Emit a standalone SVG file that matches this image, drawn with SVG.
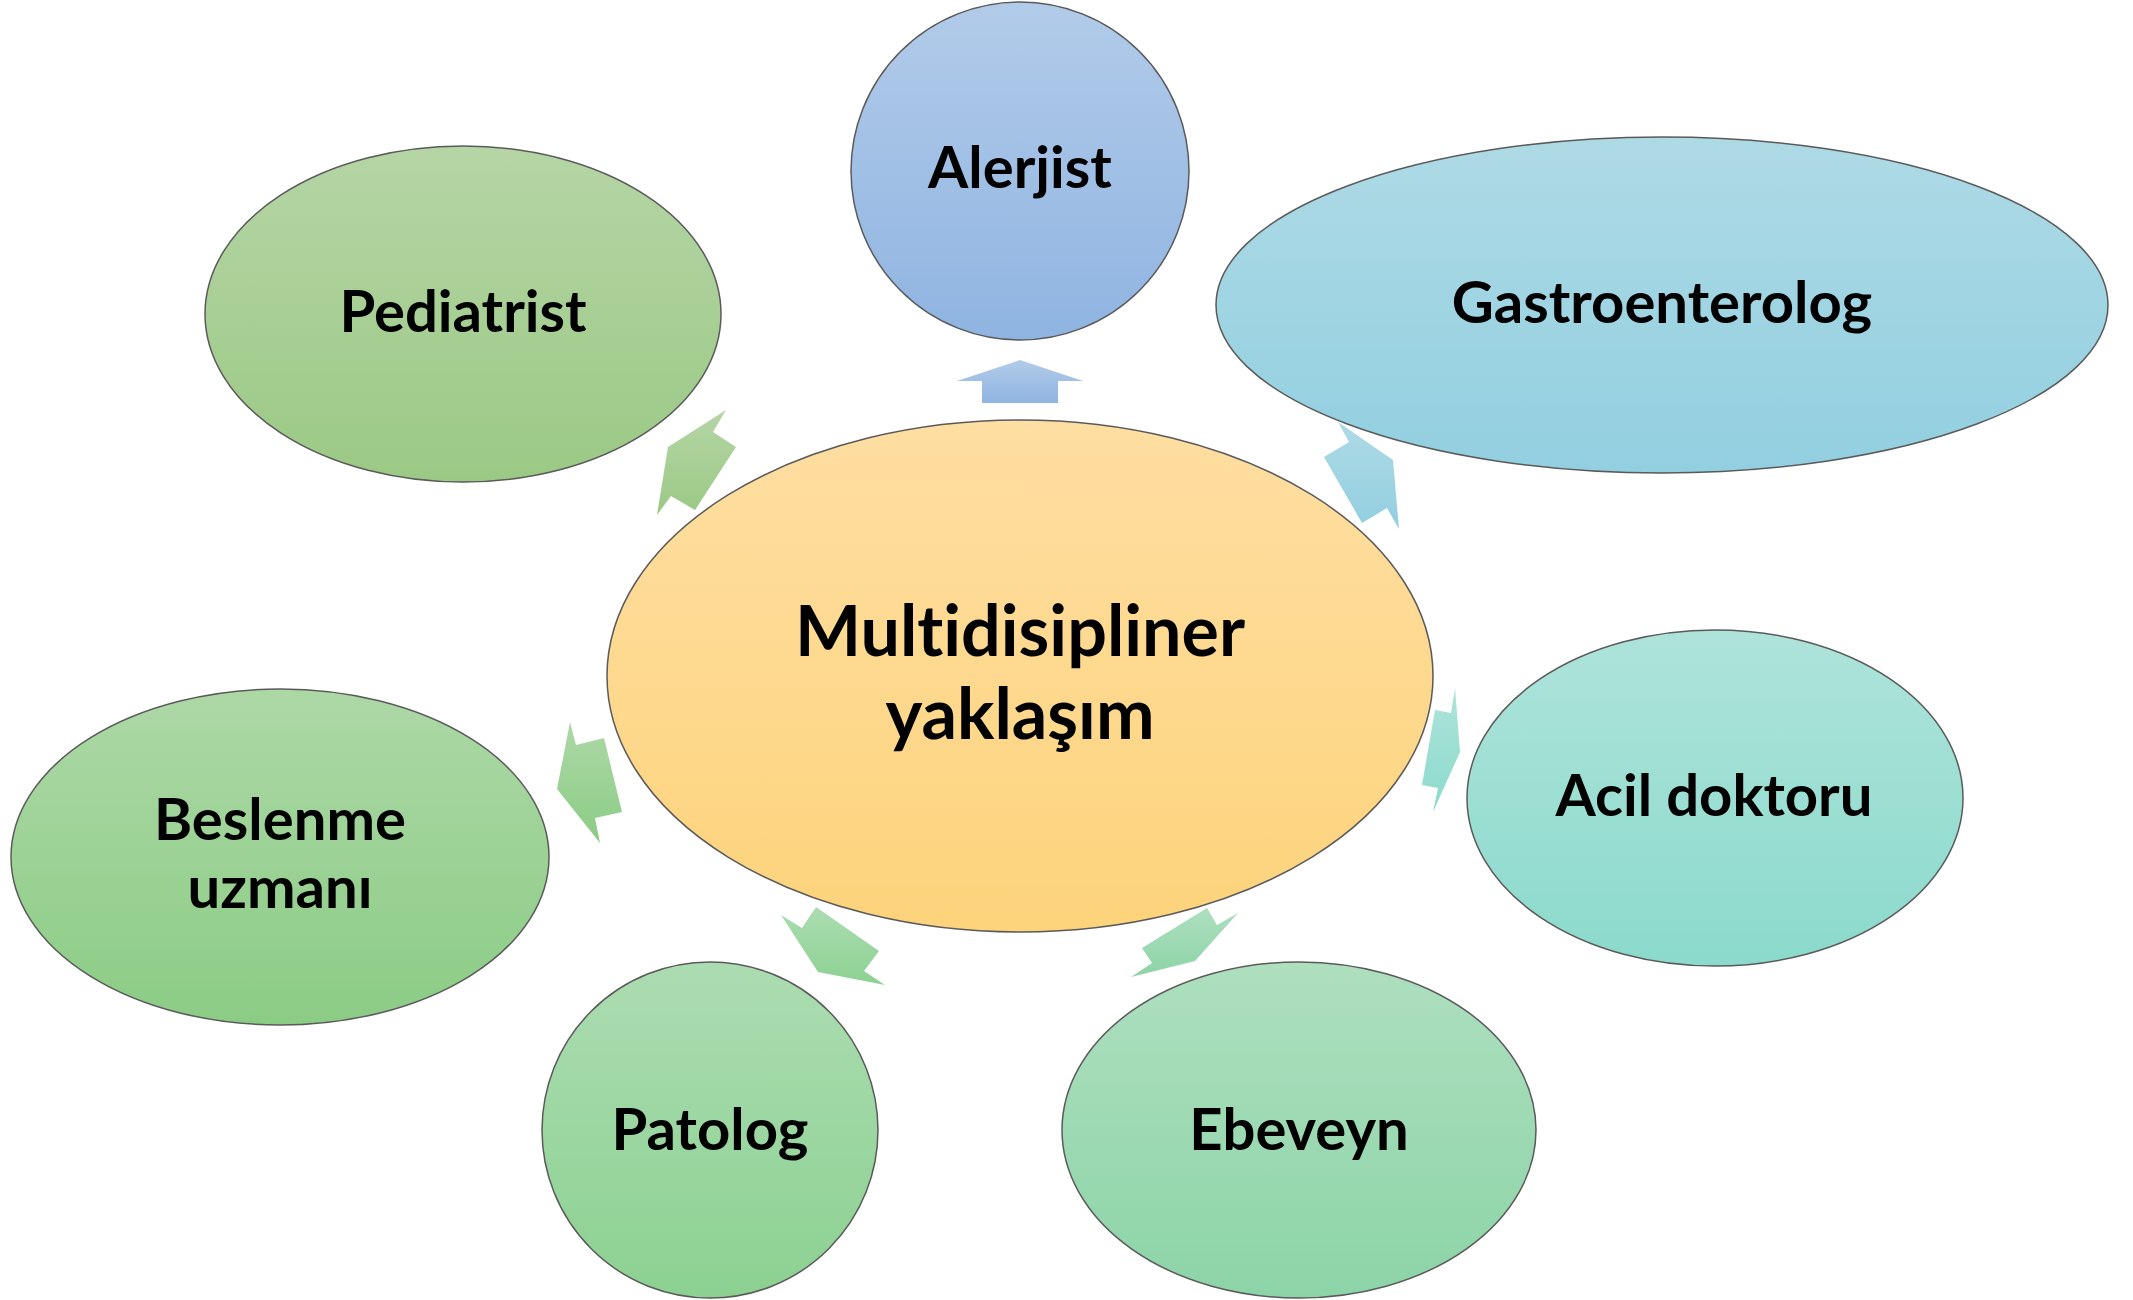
<svg xmlns="http://www.w3.org/2000/svg" width="2133" height="1300" viewBox="0 0 2133 1300">
<defs>
<linearGradient id="gC" x1="0" y1="0" x2="0" y2="1"><stop offset="0" stop-color="#FEDEA2"/><stop offset="1" stop-color="#FDD37B"/></linearGradient>
<linearGradient id="gA" x1="0" y1="0" x2="0" y2="1"><stop offset="0" stop-color="#B2CBE9"/><stop offset="1" stop-color="#8FB4E1"/></linearGradient>
<linearGradient id="gP" x1="0" y1="0" x2="0" y2="1"><stop offset="0" stop-color="#B5D5A5"/><stop offset="1" stop-color="#9BC985"/></linearGradient>
<linearGradient id="gG" x1="0" y1="0" x2="0" y2="1"><stop offset="0" stop-color="#AEDAE5"/><stop offset="1" stop-color="#92CFE0"/></linearGradient>
<linearGradient id="gD" x1="0" y1="0" x2="0" y2="1"><stop offset="0" stop-color="#AEE3DA"/><stop offset="1" stop-color="#8BDACC"/></linearGradient>
<linearGradient id="gE" x1="0" y1="0" x2="0" y2="1"><stop offset="0" stop-color="#AEDFBF"/><stop offset="1" stop-color="#8CD4A7"/></linearGradient>
<linearGradient id="gT" x1="0" y1="0" x2="0" y2="1"><stop offset="0" stop-color="#ACDCB2"/><stop offset="1" stop-color="#8CD191"/></linearGradient>
<linearGradient id="gB" x1="0" y1="0" x2="0" y2="1"><stop offset="0" stop-color="#ADD8A6"/><stop offset="1" stop-color="#8BCC85"/></linearGradient>
</defs>
<style>
.n{stroke:#5a5a5a;stroke-width:1.5}
.t{font-family:Lato,"Open Sans","Liberation Sans",sans-serif;font-weight:bold;fill:#000;text-anchor:middle;font-variant-ligatures:none}
.s{font-size:58px}
.c{font-size:70px}
.a{stroke:none}
</style>
<rect width="2133" height="1300" fill="#fff"/>
<g id="connectors">
<polygon class="a" fill="url(#gA)" points="1020,360 1083,381 1058,381 1058,403 982,403 982,381 957,381"/>
<polygon class="a" fill="url(#gP)" points="726,410 713,432 736,447 695,510 671,496 657,515 668,447"/>
<polygon class="a" fill="url(#gG)" points="1338,422 1349,442 1324,457 1362,523 1387,508 1399,529 1393,460"/>
<polygon class="a" fill="url(#gD)" points="1455,688 1451,713 1435,710 1422,785 1438,788 1433,812 1460,752"/>
<polygon class="a" fill="url(#gB)" points="570,722 576,745 604,738 622,812 595,818 600,843 557,789"/>
<polygon class="a" fill="url(#gT)" points="781,915 802,928 816,907 879,951 864,971 885,985 818,972"/>
<polygon class="a" fill="url(#gE)" points="1238,913 1217,925 1207,908 1142,948 1152,963 1131,977 1195,961"/>
</g>
<g id="center">
<ellipse class="n" cx="1020" cy="676" rx="413" ry="256" fill="url(#gC)"/>
<text class="t c" x="1020" y="656">Multidisipliner</text>
<text class="t c" x="1020" y="739">yaklaşım</text>
</g>
<g id="alerjist">
<circle class="n" cx="1020" cy="171" r="169" fill="url(#gA)"/>
<text class="t s" x="1020" y="188">Alerjist</text>
</g>
<g id="pediatrist">
<ellipse class="n" cx="463" cy="314" rx="258" ry="168" fill="url(#gP)"/>
<text class="t s" x="463" y="332">Pediatrist</text>
</g>
<g id="gastroenterolog">
<ellipse class="n" cx="1662" cy="305" rx="446" ry="168" fill="url(#gG)"/>
<text class="t s" x="1662" y="323">Gastroenterolog</text>
</g>
<g id="acil">
<ellipse class="n" cx="1715" cy="798" rx="248" ry="168" fill="url(#gD)"/>
<text class="t s" x="1714" y="816">Acil doktoru</text>
</g>
<g id="ebeveyn">
<ellipse class="n" cx="1299" cy="1130" rx="237" ry="168" fill="url(#gE)"/>
<text class="t s" x="1299" y="1150">Ebeveyn</text>
</g>
<g id="patolog">
<circle class="n" cx="710" cy="1130" r="168" fill="url(#gT)"/>
<text class="t s" x="710" y="1150">Patolog</text>
</g>
<g id="beslenme">
<ellipse class="n" cx="280" cy="857" rx="269" ry="168" fill="url(#gB)"/>
<text class="t s" x="280" y="840">Beslenme</text>
<text class="t s" x="280" y="908">uzmanı</text>
</g>
</svg>
